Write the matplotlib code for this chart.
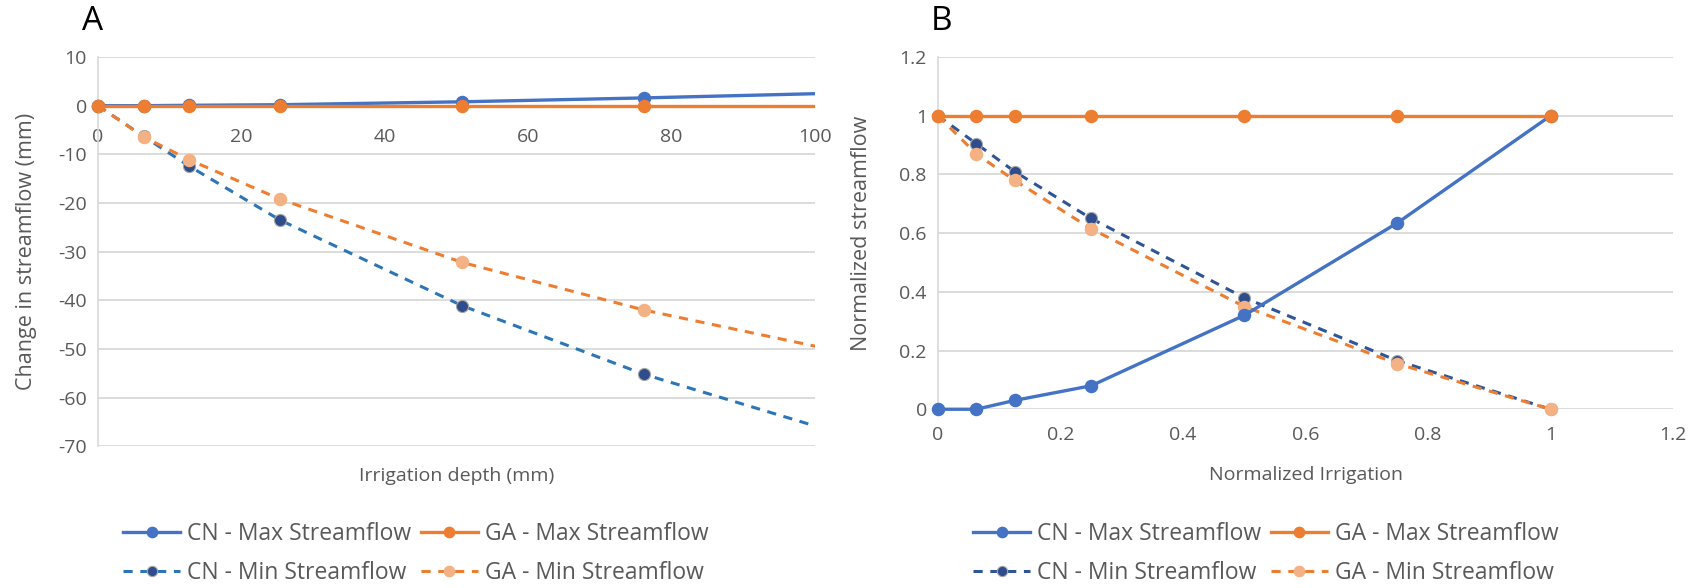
import matplotlib.pyplot as plt
from matplotlib.patches import Rectangle
from matplotlib.ticker import FuncFormatter
import numpy as np

# irrigation depths (mm) and normalized irrigation
depth = [0, 6.35, 12.7, 25.4, 50.8, 76.2, 101.6]
irr_norm = [0, 0.0625, 0.125, 0.25, 0.5, 0.75, 1.0]

# panel A: change in streamflow (mm)
cn_max = [0, 0.0, 0.08, 0.2, 0.8, 1.6, 2.52]
ga_max = [0, 0, 0, 0, 0, 0, 0]
cn_min = [0, -6.3, -12.4, -23.5, -41.1, -55.2, -66.5]
ga_min = [0, -6.4, -11.1, -19.2, -32.2, -42.0, -49.9]

# panel B: normalized streamflow
cn_max_n = [0, 0, 0.03, 0.08, 0.32, 0.635, 1.0]
ga_max_n = [1, 1, 1, 1, 1, 1, 1]
cn_min_n = [1, 0.905, 0.81, 0.65, 0.38, 0.165, 0]
ga_min_n = [1, 0.87, 0.78, 0.615, 0.35, 0.155, 0]

labels = ['CN - Max Streamflow', 'CN - Min Streamflow',
          'GA - Max Streamflow', 'GA - Min Streamflow']

BLUE = '#4472C4'
ORANGE = '#ED7D31'
NAVY = '#2F4C8C'
PEACH = '#F4B183'
GRID = '#D9D9D9'
TXT = '#595959'

plt.rcParams['font.family'] = ['Open Sans', 'DejaVu Sans']

fig = plt.figure(figsize=(16.9, 5.88), dpi=100)
axA = fig.add_axes([0.058, 0.241, 0.424, 0.662])
axB = fig.add_axes([0.555, 0.304, 0.435, 0.599])

fmt = FuncFormatter(lambda v, p: f'{v:g}')


def style(ax):
    for s in ['top', 'right']:
        ax.spines[s].set_visible(False)
    ax.spines['left'].set_color(GRID)
    ax.spines['left'].set_linewidth(1.2)
    ax.spines['bottom'].set_visible(False)
    ax.grid(axis='y', color=GRID, lw=1.3)
    ax.set_axisbelow(True)
    ax.tick_params(length=0, labelsize=14, labelcolor=TXT)
    ax.xaxis.set_major_formatter(fmt)
    ax.yaxis.set_major_formatter(fmt)


def draw(ax, x, a, b, c, d, cn_dash):
    h1, = ax.plot(x, a, '-', color=BLUE, lw=2.4, marker='o', ms=8.7, zorder=4)
    h2, = ax.plot(x, b, '-', color=ORANGE, lw=2.4, marker='o', ms=8.7, zorder=4)
    h3, = ax.plot(x, c, '--', color=cn_dash, lw=2.2, dashes=(3, 2.5), marker='o', ms=8.7,
                  mfc=NAVY, mec='#A6A6A6', mew=0.8, zorder=3)
    h4, = ax.plot(x, d, '--', color=ORANGE, lw=2.2, dashes=(3, 2.5), marker='o', ms=8.7,
                  mfc=PEACH, mec=PEACH, zorder=3)
    # let markers on the left edge show, but cut lines at the right edge
    clip = Rectangle((-0.03, -0.05), 1.03, 1.1, transform=ax.transAxes)
    for h in (h1, h2, h3, h4):
        h.set_clip_path(clip)
    return [h1, h3, h2, h4]


# Panel A
style(axA)
hA = draw(axA, depth, cn_max, ga_max, cn_min, ga_min, '#2E75B6')
axA.set_xlim(0, 100)
axA.set_ylim(-70, 10)
axA.set_xticks(np.arange(0, 101, 20))
axA.set_yticks(np.arange(-70, 11, 10))
axA.spines['bottom'].set_position(('data', 0))
axA.tick_params(axis='x', pad=16)
axA.tick_params(axis='y', pad=8)
axA.set_ylabel('Change in streamflow (mm)', fontsize=15.5, color=TXT)
axA.set_xlabel('Irrigation depth (mm)', fontsize=14, color=TXT)
axA.yaxis.set_label_coords(-0.085, 0.5)
axA.xaxis.set_label_coords(0.5, -0.052)

# Panel B
style(axB)
hB = draw(axB, irr_norm, cn_max_n, ga_max_n, cn_min_n, ga_min_n, '#2F5597')
axB.set_xlim(0, 1.2)
axB.set_ylim(0, 1.2)
axB.set_xticks(np.arange(0, 1.21, 0.2))
axB.set_yticks(np.arange(0, 1.21, 0.2))
axB.tick_params(axis='x', pad=12)
axB.tick_params(axis='y', pad=8)
axB.set_ylabel('Normalized streamflow', fontsize=15.5, color=TXT)
axB.set_xlabel('Normalized Irrigation', fontsize=14, color=TXT)
axB.yaxis.set_label_coords(-0.090, 0.5)
axB.xaxis.set_label_coords(0.5, -0.162)

for h, cx in [(hA, 0.246), (hB, 0.749)]:
    leg = fig.legend(h, labels, ncol=2, loc='center', bbox_to_anchor=(cx, 0.059),
                     frameon=False, fontsize=16.5, handlelength=2.5, columnspacing=0.4,
                     handletextpad=0.3, labelspacing=0.65, markerscale=0.85)
    for t in leg.get_texts():
        t.set_color(TXT)

fig.text(0.055, 0.963, 'A', fontsize=24, ha='center', va='center')
fig.text(0.557, 0.963, 'B', fontsize=24, ha='center', va='center')

fig.savefig('out.png', dpi=100)
